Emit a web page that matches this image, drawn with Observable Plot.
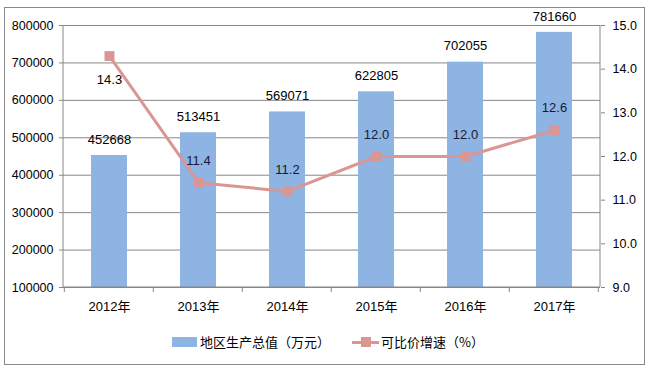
<!DOCTYPE html>
<html><head><meta charset="utf-8">
<script src="https://cdn.jsdelivr.net/npm/d3@7"></script>
<script src="https://cdn.jsdelivr.net/npm/@observablehq/plot@0.6"></script>
<style>
body{margin:0;background:#fff;}
#wrap{position:relative;width:650px;height:372px;font-family:"Liberation Sans","Noto Sans CJK SC",sans-serif;color:#000;}
#frame{position:absolute;left:4px;top:7px;width:641px;height:358px;border:1.5px solid #8a8a8a;box-sizing:border-box;pointer-events:none;}
#chart{position:absolute;left:0;top:0;}
.leg{position:absolute;top:333px;font-size:13px;line-height:17px;white-space:nowrap;font-family:"Noto Sans CJK SC","Liberation Sans",sans-serif;}
.sw{display:inline-block;vertical-align:middle;position:relative;}
</style>
</head><body>
<div id="wrap"><div id="chart"></div><div id="frame"></div><div id="legend"></div></div>
<script>
const years = ["2012年","2013年","2014年","2015年","2016年","2017年"];
const gdp = [452668, 513451, 569071, 622805, 702055, 781660];
const growth = [14.3, 11.4, 11.2, 12.0, 12.0, 12.6];
const leftTicks = [100000,200000,300000,400000,500000,600000,700000,800000];
const rightTicks = [9,10,11,12,13,14,15];
const seriesNames = ["地区生产总值（万元）","可比价增速（%）"];
const colors = ["#8DB4E2","#D99694"];

const Lmin = 100000, Lmax = 800000, Rmin = 9, Rmax = 15;
const toLeft = v => Lmin + (v - Rmin) * (Lmax - Lmin) / (Rmax - Rmin);
const fromLeft = v => Rmin + (v - Lmin) * (Rmax - Rmin) / (Lmax - Lmin);
const data = years.map((year, i) => ({year, gdp: gdp[i], growth: growth[i], g: toLeft(growth[i]), i}));
const axisColor = "#878787";

const frameMark = (index, scales, values, dims) => {
  const g = d3.create("svg:g").attr("stroke", axisColor).attr("stroke-width", 1);
  const L = dims.marginLeft, R = dims.width - dims.marginRight;
  const B = dims.height - dims.marginBottom, T = dims.marginTop;
  g.append("line").attr("x1", L).attr("x2", R).attr("y1", B).attr("y2", B);
  g.append("line").attr("x1", L).attr("x2", L).attr("y1", T).attr("y2", B);
  g.append("line").attr("x1", R).attr("x2", R).attr("y1", T).attr("y2", B);
  const step = scales.x(years[1]) - scales.x(years[0]);
  const bw = step * 0.4;
  const bounds = years.map(y => scales.x(y) + bw / 2 - step / 2).concat([scales.x(years[years.length-1]) + bw / 2 + step / 2]);
  bounds.forEach(x => g.append("line").attr("x1", x).attr("x2", x).attr("y1", B).attr("y2", B + 5));
  return g.node();
};

const chart = Plot.plot({
  width: 650, height: 372,
  marginTop: 25, marginBottom: 85, marginLeft: 63, marginRight: 50,
  style: {fontFamily: '"Liberation Sans","Noto Sans CJK SC",sans-serif', fontSize: "12.5px", color: "#000", background: "transparent"},
  x: {type: "band", domain: years, paddingInner: 0.6, paddingOuter: 0.3, axis: null},
  y: {domain: [Lmin, Lmax], axis: null},
  marks: [
    Plot.gridY(leftTicks, {stroke: axisColor, strokeOpacity: 1, strokeWidth: 1}),
    Plot.barY(data, {x: "year", y1: Lmin, y2: "gdp", fill: colors[0]}),
    Plot.axisY(leftTicks, {anchor: "left", tickSize: 4, tickPadding: 6, stroke: axisColor, tickFormat: d => String(d), label: null, fill: "#000"}),
    Plot.axisY(rightTicks.map(toLeft), {anchor: "right", tickSize: 4, tickPadding: 8, stroke: axisColor, tickFormat: d => fromLeft(d).toFixed(1), label: null, fill: "#000"}),
    Plot.axisX({tickSize: 0, tickPadding: 14, label: null, fill: "#000", fontSize: 13}),
    frameMark,
    Plot.line(data, {x: "year", y: "g", stroke: colors[1], strokeWidth: 3}),
    Plot.dot(data, {x: "year", y: "g", symbol: "square", r: 5.6, fill: colors[1], stroke: "none"}),
    Plot.text(data, {x: "year", y: "gdp", text: d => String(d.gdp), dy: -16, fontSize: 13, fill: "#000"}),
    Plot.text(data, {filter: d => d.i === 0, x: "year", y: "g", text: d => d.growth.toFixed(1), dy: 24, fontSize: 13, fill: "#000"}),
    Plot.text(data, {filter: d => d.i > 0, x: "year", y: "g", text: d => d.growth.toFixed(1), dy: -22, fontSize: 13, fill: "#1a1a2e"})
  ]
});
document.getElementById("chart").appendChild(chart);

const leg = document.getElementById("legend");
leg.innerHTML =
  `<div class="leg" style="left:172px"><span class="sw" style="width:25px;height:10px;background:${colors[0]};margin-right:3px;top:-1px"></span>${seriesNames[0]}</div>` +
  `<div class="leg" style="left:352px"><span class="sw" style="width:27px;height:10px;margin-right:2px;top:-1px"><span style="position:absolute;left:0;right:0;top:3.5px;height:3px;background:${colors[1]}"></span><span style="position:absolute;left:8.5px;top:0;width:10px;height:10px;background:${colors[1]}"></span></span>${seriesNames[1]}</div>`;
</script>
</body></html>
